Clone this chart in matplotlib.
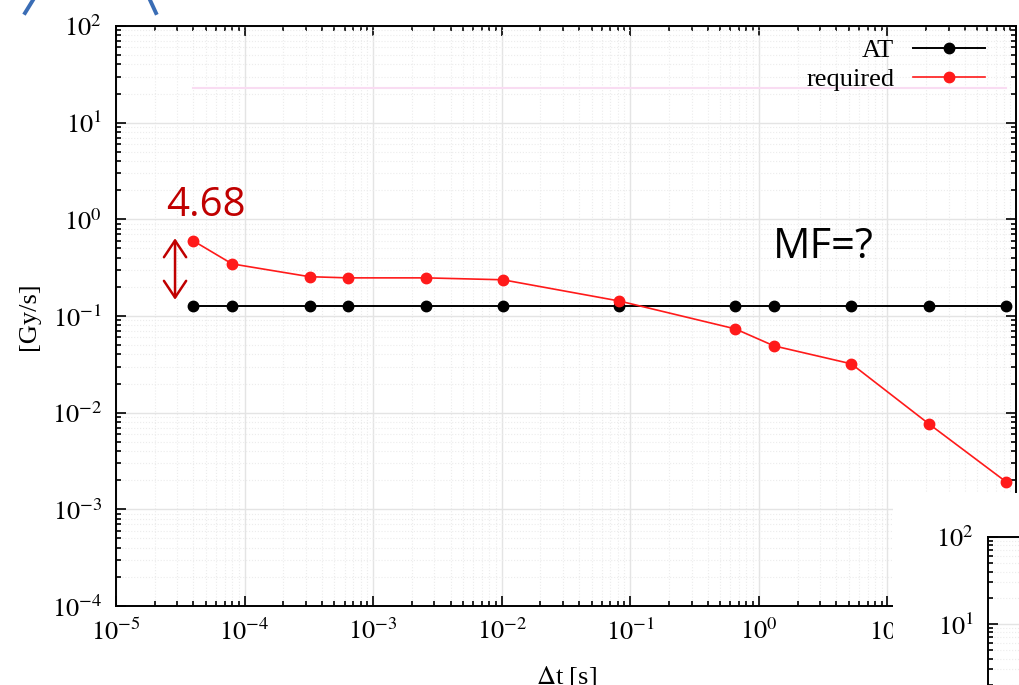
import numpy as np
import matplotlib
matplotlib.use('Agg')
import matplotlib.pyplot as plt
from matplotlib.lines import Line2D
from matplotlib.patches import Rectangle
from matplotlib.ticker import LogLocator, FuncFormatter, NullFormatter

plt.rcParams['font.family'] = ['Liberation Serif', 'DejaVu Serif']
plt.rcParams['mathtext.fontset'] = 'stix'

# datos
dt = [4e-5, 8e-5, 3.2e-4, 6.4e-4, 2.56e-3, 1.02e-2, 8.2e-2, 0.655, 1.31, 5.24, 21.0, 84.0]
at = [0.127] * len(dt)
required = [0.598, 0.346, 0.255, 0.248, 0.248, 0.237, 0.143, 0.0736, 0.0491, 0.032, 0.00766, 0.00192]
faded_x = [4e-5, 84.0]
faded_y = [22.7, 22.7]

W, H = 1019, 685
fig = plt.figure(figsize=(W / 100, H / 100), dpi=100)

def fx(px):
    return px / W

def fy(py):
    return 1 - py / H

ax = fig.add_axes([fx(116), fy(606), fx(1016) - fx(116), fy(26) - fy(606)])
ax.set_xscale('log')
ax.set_yscale('log')
ax.set_xlim(1e-5, 1e2)
ax.set_ylim(1e-4, 1e2)

ax.xaxis.set_major_locator(LogLocator(base=10, numticks=20))
ax.yaxis.set_major_locator(LogLocator(base=10, numticks=20))
ax.xaxis.set_minor_locator(LogLocator(base=10, subs=np.arange(2, 10), numticks=20))
ax.yaxis.set_minor_locator(LogLocator(base=10, subs=np.arange(2, 10), numticks=20))
fmt = FuncFormatter(lambda v, p: r'$10^{%d}$' % int(round(np.log10(v))))
ax.xaxis.set_major_formatter(fmt)
ax.yaxis.set_major_formatter(fmt)
ax.xaxis.set_minor_formatter(NullFormatter())
ax.yaxis.set_minor_formatter(NullFormatter())

ax.tick_params(which='both', direction='in', top=True, right=True, width=1.2, labelsize=19)
ax.tick_params(which='major', length=7)
ax.tick_params(which='minor', length=3.5)
ax.tick_params(axis='x', pad=9)
ax.tick_params(axis='y', pad=10)
for s in ax.spines.values():
    s.set_linewidth(1.4)

ax.grid(which='major', color='#e4e4e4', linewidth=1.0, linestyle='-')
ax.grid(which='minor', color='#ececec', linewidth=0.8, linestyle=':')
ax.set_axisbelow(True)

ax.plot(faded_x, faded_y, color='#f9dcf2', linewidth=1.5)
ax.plot(dt, at, color='black', linewidth=1.4, marker='o', markersize=7.5, label='AT')
ax.plot(dt, required, color='#ff1a1a', linewidth=1.2, marker='o', markersize=7.5, label='required')

ax.legend(loc='upper right', bbox_to_anchor=(0.966, 0.978), frameon=False, markerfirst=False,
          fontsize=19, handlelength=2.75, borderpad=0, borderaxespad=0, labelspacing=0.2,
          handletextpad=0.7)

ax.set_xlabel(r'$\Delta$t [s]', fontsize=19)
ax.set_ylabel('[Gy/s]', fontsize=19)
ax.xaxis.set_label_coords(0.5, -0.1)
ax.yaxis.set_label_coords(-0.085, 0.5)

# anotaciones
ax.annotate('', xy=(0.0656, 0.634), xytext=(0.0656, 0.528), xycoords='axes fraction',
            arrowprops=dict(arrowstyle='<->,head_length=0.6,head_width=0.4', mutation_scale=20,
                            color='#c00000', lw=1.8, shrinkA=0, shrinkB=0))
ax.text(0.1, 0.672, '4.68', transform=ax.transAxes, color='#c00000', fontsize=29,
        family='Open Sans', ha='center', va='baseline')
ax.text(0.786, 0.6, 'MF=?', transform=ax.transAxes, color='black', fontsize=30,
        family='Open Sans', ha='center', va='baseline')

# recorte de la segunda grafica de la diapositiva
fig.add_artist(Rectangle((fx(893), 0), 1 - fx(893), fy(493), transform=fig.transFigure,
                         facecolor='white', edgecolor='none', zorder=5))
ax2 = fig.add_axes([fx(988), fy(798), 0.5, fy(537) - fy(798)], zorder=6)
ax2.set_yscale('log')
ax2.set_ylim(1e-1, 1e2)
ax2.set_xticks([])
ax2.yaxis.set_major_locator(LogLocator(base=10, numticks=10))
ax2.yaxis.set_minor_locator(LogLocator(base=10, subs=np.arange(2, 10), numticks=10))
ax2.yaxis.set_major_formatter(fmt)
ax2.yaxis.set_minor_formatter(NullFormatter())
ax2.tick_params(which='both', direction='in', width=1.2, labelsize=19, pad=10)
ax2.tick_params(which='major', length=7)
ax2.tick_params(which='minor', length=3.5)
for s in ax2.spines.values():
    s.set_linewidth(1.4)
ax2.grid(which='major', axis='y', color='#e4e4e4', linewidth=1.0)
ax2.grid(which='minor', axis='y', color='#ececec', linewidth=0.8, linestyle=':')

# trazos azules del fondo de la diapositiva
fig.add_artist(Line2D([fx(25), fx(33)], [fy(13), fy(0)], color='#3a6db5', lw=2.8, transform=fig.transFigure))
fig.add_artist(Line2D([fx(150), fx(156)], [fy(0), fy(13)], color='#3a6db5', lw=2.8, transform=fig.transFigure))

fig.savefig('out.png', dpi=100)
